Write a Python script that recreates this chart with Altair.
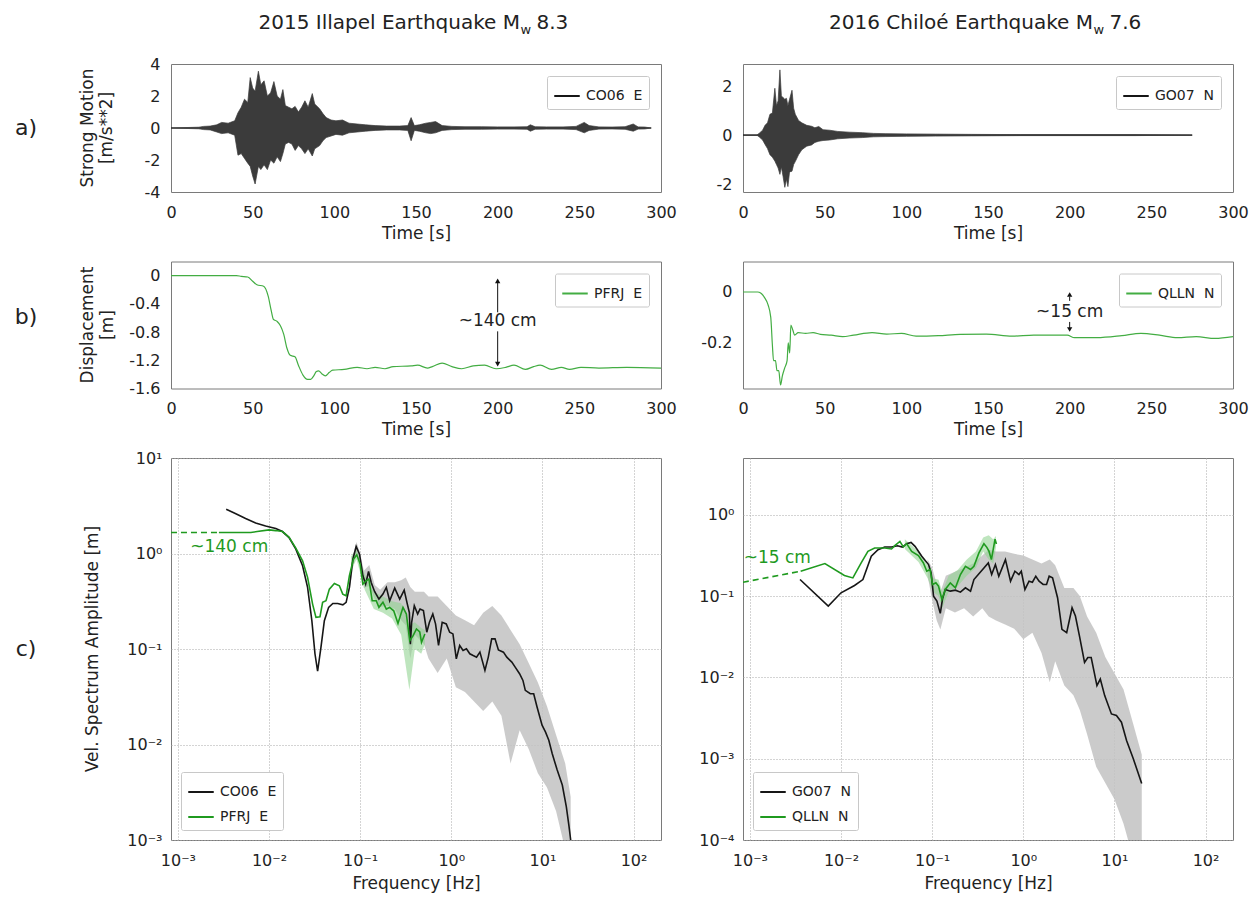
import altair as alt
import pandas as pd

FONT = "DejaVu Sans"
W = 490
HA, HB, HC = 128, 127, 382
COLGAP = 82
ROWGAP = 69.5

BLACK = "#161616"
GREEN = "#1f9a1f"
GREEN_B = "#43ad43"
SEIS = "#3b3b3b"
GRAY = "#c2c2c2"
LGREEN = "#93d493"
TXT = "#222222"

# ---------------- texts ----------------
title_left = ["2015 Illapel Earthquake M", "w", "8.3"]
title_right = ["2016 Chiloé Earthquake M", "w", "7.6"]
letters = ["a)", "b)", "c)"]
time_ticks = [0, 50, 100, 150, 200, 250, 300]

# ---------------- a) strong motion (envelope of the trace) ----------------
a1_name = "CO06\u00a0 E"
a1_t = [0, 17, 20, 24, 28, 31, 35, 39, 41, 43,
        45, 47, 48.5, 50, 51.5, 53.5, 55, 57, 59, 61,
        63, 65, 67, 68.5, 70, 72, 74, 76, 78, 80,
        82, 84, 86.5, 88, 91, 93, 95, 98, 101, 105,
        109, 114, 119, 125, 132, 140, 145, 147, 149, 152,
        156, 159, 162, 166, 172, 180, 190, 200, 210, 218,
        220, 223, 230, 240, 248, 253, 256, 262, 270, 278,
        283, 286, 290, 294]
a1_hi = [0, 0.05, 0.1, 0.12, 0.2, 0.35, 0.3, 0.45, 0.95, 1.3,
         1.8, 1.6, 3.15, 2.5, 2.3, 3.55, 2.7, 2.95, 2.0, 2.2,
         2.9, 2.0, 1.8, 2.4, 1.4, 1.3, 1.2, 1.35, 1.0, 1.3,
         1.7, 1.3, 2.15, 1.5, 1.2, 0.9, 0.65, 0.5, 0.45, 0.5,
         0.3, 0.25, 0.2, 0.15, 0.12, 0.12, 0.15, 0.65, 0.15, 0.2,
         0.3, 0.35, 0.4, 0.15, 0.1, 0.08, 0.08, 0.07, 0.07, 0.08,
         0.2, 0.08, 0.07, 0.07, 0.1, 0.35, 0.15, 0.07, 0.06, 0.08,
         0.25, 0.07, 0.06, 0]
a1_lo = [0, -0.05, -0.1, -0.12, -0.25, -0.35, -0.3, -0.45, -1.7, -1.6,
         -1.9, -2.2, -2.4, -3.0, -3.5, -2.4, -2.6, -2.3, -2.6, -2.0,
         -2.2, -1.8, -2.1, -1.6, -1.0, -0.9, -1.0, -1.4, -1.1, -1.3,
         -1.6, -1.3, -1.75, -1.3, -1.1, -0.8, -0.6, -0.5, -0.4, -0.45,
         -0.3, -0.25, -0.2, -0.15, -0.12, -0.12, -0.15, -0.8, -0.15, -0.2,
         -0.3, -0.35, -0.3, -0.15, -0.1, -0.08, -0.08, -0.07, -0.07, -0.08,
         -0.2, -0.08, -0.07, -0.07, -0.1, -0.3, -0.15, -0.07, -0.06, -0.08,
         -0.2, -0.07, -0.06, 0]
a1_span = [0, 294]

a2_name = "GO07\u00a0 N"
a2_t = [0, 8.5, 10, 12, 13.5, 15, 16.5, 18, 19.5, 20.5,
        21.5, 22.6, 23.5, 24.5, 25.6, 26.6, 27.5, 28.5, 30, 31,
        32, 34, 36, 39, 42, 44, 46.4, 49, 53, 58,
        65, 73, 80, 87, 100, 118, 140, 170, 200, 240,
        275]
a2_hi = [0, 0, 0.08, 0.2, 0.4, 0.5, 0.85, 0.9, 1.91, 1.2,
         1.4, 2.66, 1.6, 1.53, 1.46, 1.5, 1.2, 1.46, 1.83, 1.1,
         0.85, 0.6, 0.5, 0.4, 0.36, 0.3, 0.35, 0.22, 0.2, 0.15,
         0.12, 0.1, 0.07, 0.06, 0.05, 0.04, 0.03, 0.02, 0.02, 0.02,
         0]
a2_lo = [0, 0, -0.08, -0.2, -0.38, -0.55, -0.8, -0.9, -1.06, -1.2,
         -1.34, -1.6, -1.3, -1.68, -2.13, -1.8, -2.1, -1.5, -1.47, -1.2,
         -1.08, -0.8, -0.6, -0.45, -0.4, -0.3, -0.25, -0.22, -0.2, -0.15,
         -0.12, -0.1, -0.07, -0.06, -0.05, -0.04, -0.03, -0.02, -0.02, -0.02,
         0]
a2_span = [0, 275]

# ---------------- b) displacement ----------------
b1_name = "PFRJ\u00a0 E"
b1_t = [0, 40, 43, 47, 50, 52.6, 56.7, 59.5, 61.4, 62.7,
        65, 67, 69, 71, 73, 75.9, 78, 80.8, 83.6, 85.5,
        87.4, 89, 90.4, 92.3, 94.5, 97, 99, 106, 114, 120,
        125, 131, 136, 147, 151, 157, 160, 166, 172, 178,
        185, 192, 199, 205, 210, 217, 222, 226, 233, 239,
        244, 251, 262, 279, 300]
b1_d = [0, 0, -0.01, -0.02, -0.08, -0.13, -0.15, -0.29, -0.5, -0.62,
        -0.65, -0.71, -0.83, -1.03, -1.13, -1.15, -1.27, -1.41, -1.47, -1.47,
        -1.42, -1.36, -1.35, -1.39, -1.42, -1.37, -1.34, -1.33, -1.30, -1.32,
        -1.30, -1.32, -1.29, -1.28, -1.27, -1.31, -1.29, -1.24, -1.29, -1.32,
        -1.28, -1.27, -1.32, -1.30, -1.27, -1.33, -1.29, -1.27, -1.33, -1.30,
        -1.33, -1.30, -1.31, -1.30, -1.31]
b1_note = "~140 cm"
b1_note_at = [200, -0.65]
b1_seg_lo = [-0.07, -0.79]
b1_seg_hi = [-0.52, -1.26]
b1_heads = [-0.075, -1.255]

b2_name = "QLLN\u00a0 N"
b2_t = [0, 9, 10.8, 13, 15.3, 17, 18, 18.7, 19.9, 20.8,
        21.9, 23, 24.1, 25.5, 27, 27.7, 28.6, 29.3, 30.5, 31.6,
        33.8, 38.3, 42.9, 47.4, 54, 61, 67.7, 79, 88, 97,
        106, 119.6, 133, 149, 164.7, 178, 198.5, 203, 216.6, 232,
        243.6, 255, 266, 277.5, 289, 300]
b2_d = [0, 0, -0.004, -0.02, -0.05, -0.10, -0.21, -0.27, -0.27, -0.31,
        -0.31, -0.366, -0.33, -0.30, -0.27, -0.20, -0.24, -0.13, -0.15, -0.17,
        -0.16, -0.163, -0.16, -0.167, -0.17, -0.176, -0.17, -0.16, -0.166, -0.163,
        -0.174, -0.172, -0.167, -0.166, -0.174, -0.17, -0.17, -0.18, -0.18, -0.172,
        -0.163, -0.17, -0.18, -0.176, -0.183, -0.176]
b2_note = "~15 cm"
b2_note_at = [200, -0.077]
b2_seg_lo = [-0.018, -0.118]
b2_seg_hi = [-0.035, -0.142]
b2_heads = [-0.01, -0.148]

# ---------------- c) velocity spectra (log10 values read off the axes) ----------------
c1_names = ["CO06\u00a0 E", "PFRJ\u00a0 E"]
c1k_lf = [-2.47, -2.37, -2.257, -2.147, -2.037, -1.926, -1.853, -1.78, -1.706, -1.632,
          -1.577, -1.53, -1.496, -1.467, -1.43, -1.393, -1.346, -1.30, -1.246, -1.19,
          -1.154, -1.118, -1.08, -1.044, -1.007, -0.97, -0.94, -0.908, -0.879, -0.842,
          -0.794, -0.75, -0.713, -0.676, -0.621, -0.566, -0.517, -0.485, -0.46, -0.449,
          -0.435, -0.406, -0.369, -0.343, -0.306, -0.269, -0.24, -0.203, -0.173, -0.14,
          -0.1, -0.055, -0.018, 0.018, 0.055, 0.092, 0.129, 0.166, 0.203, 0.24,
          0.277, 0.314, 0.369, 0.406, 0.443, 0.48, 0.517, 0.572, 0.609, 0.664,
          0.701, 0.749, 0.786, 0.812, 0.867, 0.904, 0.941, 0.996, 1.033, 1.07,
          1.107, 1.162, 1.218, 1.262, 1.292, 1.31]
c1k_la = [0.463, 0.418, 0.366, 0.32, 0.289, 0.261, 0.23, 0.167, 0.045, -0.129,
          -0.355, -0.704, -1.05, -1.233, -0.98, -0.704, -0.564, -0.523, -0.523, -0.537,
          -0.512, -0.355, -0.059, 0.073, -0.007, -0.233, -0.32, -0.188, -0.303, -0.397,
          -0.477, -0.425, -0.355, -0.495, -0.362, -0.477, -0.383, -0.52, -0.62, -0.95,
          -0.72, -0.546, -0.633, -0.581, -0.598, -0.824, -0.72, -0.633, -0.737, -0.963,
          -0.72, -0.737, -0.824, -0.842, -1.103, -0.963, -1.016, -0.998, -1.05, -1.068,
          -1.085, -1.033, -1.224, -1.085, -0.894, -0.894, -1.009, -1.033, -1.085, -1.137,
          -1.19, -1.259, -1.329, -1.433, -1.468, -1.468, -1.607, -1.798, -1.868, -1.955,
          -2.094, -2.268, -2.424, -2.65, -2.859, -3.0]
c1g_lf = [-2.55, -2.2, -2.13, -2.0, -1.926, -1.853, -1.78, -1.706, -1.632, -1.577,
          -1.522, -1.485, -1.441, -1.412, -1.375, -1.338, -1.283, -1.228, -1.191, -1.154,
          -1.118, -1.074, -1.037, -1.0, -0.971, -0.934, -0.904, -0.868, -0.824, -0.794,
          -0.75, -0.713, -0.676, -0.632, -0.585, -0.53, -0.493, -0.456, -0.419, -0.382,
          -0.346, -0.327, -0.29]
c1g_la = [0.22, 0.22, 0.23, 0.247, 0.24, 0.23, 0.17, 0.056, -0.077, -0.25,
          -0.53, -0.669, -0.662, -0.512, -0.495, -0.373, -0.314, -0.338, -0.425, -0.443,
          -0.233, -0.059, -0.014, -0.111, -0.32, -0.286, -0.268, -0.495, -0.495, -0.564,
          -0.51, -0.582, -0.564, -0.6, -0.732, -0.564, -0.634, -0.913, -0.86, -0.79,
          -0.82, -0.93, -0.843]
c1d_lf = [-3.076, -2.55]
c1d_la = [0.22, 0.22]
c1r_lf = [-1.12, -1.08, -1.04, -1.00, -0.96, -0.90, -0.84, -0.78, -0.70, -0.62,
          -0.55, -0.50, -0.45, -0.40, -0.30, -0.25, -0.15, -0.05, 0.05, 0.15,
          0.25, 0.35, 0.45, 0.55, 0.65, 0.75, 0.85, 0.95, 1.05, 1.15,
          1.25, 1.31]
c1r_hi = [-0.28, -0.02, 0.12, 0.00, -0.18, -0.12, -0.33, -0.38, -0.30, -0.30,
          -0.28, -0.25, -0.35, -0.40, -0.40, -0.45, -0.45, -0.55, -0.65, -0.70,
          -0.75, -0.62, -0.55, -0.65, -0.80, -0.95, -1.15, -1.35, -1.60, -1.90,
          -2.20, -2.55]
c1r_lo = [-0.42, -0.15, 0.00, -0.10, -0.36, -0.34, -0.48, -0.56, -0.55, -0.58,
          -0.70, -0.75, -1.10, -0.85, -0.95, -1.10, -1.25, -1.10, -1.40, -1.45,
          -1.55, -1.65, -1.55, -1.70, -2.20, -1.85, -2.05, -2.30, -2.45, -2.70,
          -3.10, -3.20]
c1q_lf = [-1.10, -1.04, -0.95, -0.85, -0.75, -0.65, -0.55, -0.46, -0.40, -0.33, -0.29]
c1q_hi = [-0.03, 0.04, -0.22, -0.40, -0.45, -0.50, -0.52, -0.75, -0.72, -0.78, -0.80]
c1q_lo = [-0.18, -0.06, -0.38, -0.58, -0.62, -0.68, -0.85, -1.43, -1.00, -1.05, -0.95]
c1_note = "~140 cm"
c1_note_at = [-2.437, 0.063]

c2_names = ["GO07\u00a0 N", "QLLN\u00a0 N"]
c2k_lf = [-2.45, -2.14, -2.0, -1.852, -1.76, -1.668, -1.594, -1.52, -1.446, -1.38,
          -1.328, -1.28, -1.232, -1.188, -1.114, -1.04, -1.011, -0.985, -0.948, -0.911,
          -0.886, -0.856, -0.801, -0.745, -0.69, -0.635, -0.579, -0.542, -0.494, -0.432,
          -0.384, -0.347, -0.306, -0.269, -0.196, -0.14, -0.092, -0.048, -0.022, 0.018,
          0.063, 0.1, 0.137, 0.173, 0.218, 0.255, 0.284, 0.321, 0.376, 0.424,
          0.476, 0.535, 0.572, 0.616, 0.672, 0.708, 0.745, 0.808, 0.845, 0.893,
          0.967, 1.022, 1.077, 1.133, 1.207, 1.299]
c2k_la = [-0.796, -1.122, -0.959, -0.869, -0.796, -0.51, -0.43, -0.396, -0.396, -0.38,
          -0.396, -0.355, -0.339, -0.388, -0.51, -0.612, -0.714, -1.0, -1.061, -1.212,
          -1.033, -0.918, -0.939, -0.927, -0.951, -0.898, -0.939, -0.796, -0.735, -0.653,
          -0.592, -0.735, -0.612, -0.755, -0.551, -0.816, -0.694, -0.735, -0.694, -0.918,
          -0.816, -0.829, -0.755, -0.816, -0.857, -0.857, -0.755, -0.776, -1.02, -1.408,
          -1.449, -1.143, -1.245, -1.49, -1.816, -1.755, -1.755, -2.102, -2.02, -2.224,
          -2.449, -2.469, -2.551, -2.776, -3.0, -3.306]
c2g_lf = [-2.443, -2.177, -1.963, -1.87, -1.779, -1.705, -1.631, -1.52, -1.446, -1.41,
          -1.354, -1.317, -1.28, -1.225, -1.151, -1.096, -1.059, -1.022, -0.996, -0.959,
          -0.93, -0.893, -0.856, -0.801, -0.745, -0.69, -0.635, -0.579, -0.542, -0.487,
          -0.432, -0.40, -0.376, -0.35, -0.31, -0.295]
c2g_la = [-0.694, -0.6, -0.747, -0.776, -0.592, -0.449, -0.408, -0.408, -0.42, -0.38,
          -0.327, -0.396, -0.355, -0.449, -0.502, -0.592, -0.694, -0.673, -0.857, -0.837,
          -0.878, -1.041, -0.918, -0.837, -0.898, -0.735, -0.633, -0.673, -0.633, -0.469,
          -0.355, -0.40, -0.45, -0.55, -0.30, -0.36]
c2d_lf = [-3.077, -2.443]
c2d_la = [-0.829, -0.694]
c2r_lf = [-1.05, -1.00, -0.95, -0.91, -0.85, -0.75, -0.65, -0.55, -0.45, -0.38,
          -0.30, -0.20, -0.10, 0.0, 0.10, 0.20, 0.29, 0.35, 0.45, 0.55,
          0.62, 0.70, 0.80, 0.90, 1.00, 1.10, 1.20, 1.30]
c2r_hi = [-0.55, -0.65, -0.85, -0.95, -0.75, -0.70, -0.65, -0.60, -0.50, -0.43,
          -0.45, -0.45, -0.48, -0.50, -0.55, -0.60, -0.55, -0.62, -0.90, -0.90,
          -1.00, -1.25, -1.45, -1.75, -1.95, -2.15, -2.55, -2.95]
c2r_lo = [-0.75, -1.05, -1.30, -1.41, -1.15, -1.20, -1.15, -1.25, -1.15, -1.25,
          -1.30, -1.35, -1.40, -1.53, -1.45, -1.70, -2.06, -1.80, -2.10, -2.22,
          -2.40, -2.70, -3.10, -3.30, -3.50, -3.80, -4.20, -4.30]
c2q_lf = [-1.30, -1.15, -1.05, -0.99, -0.93, -0.89, -0.82, -0.72, -0.62, -0.52, -0.44, -0.38, -0.33, -0.30]
c2q_hi = [-0.30, -0.45, -0.62, -0.78, -0.80, -0.95, -0.75, -0.68, -0.55, -0.45, -0.28, -0.25, -0.30, -0.26]
c2q_lo = [-0.42, -0.58, -0.78, -0.95, -1.00, -1.15, -0.95, -0.88, -0.75, -0.65, -0.45, -0.55, -0.60, -0.40]
c2_note = "~15 cm"
c2_note_at = [-2.70, -0.535]

freq_ticks = [1e-3, 1e-2, 1e-1, 1, 10, 100]
c1_yticks = [1e-3, 1e-2, 1e-1, 1, 10]
c2_yticks = [1e-4, 1e-3, 1e-2, 1e-1, 1]
FDOM = [8.4e-4, 200]

# ---------------- helpers ----------------
SIGNED = "datum.value < 0 ? '-' + abs(datum.value) : '' + datum.value"
LOGLAB = ("datum.value > 50 ? '10\u00b2' : datum.value > 5 ? '10\u00b9' : datum.value > 0.5 ? '10\u2070' : "
          "datum.value > 0.05 ? '10\u207b\u00b9' : datum.value > 0.005 ? '10\u207b\u00b2' : "
          "datum.value > 0.0005 ? '10\u207b\u00b3' : '10\u207b\u2074'")

leg_tr = alt.Legend(orient="top-right", offset=12)
leg_bl = alt.Legend(orient="bottom-left", offset=10)


def p10(v):
    return [10 ** x for x in v]


def txt(label, x, y, size=17, color=TXT, align="center", baseline="middle", angle=0):
    df = pd.DataFrame({"s": [label]})
    return alt.Chart(df).mark_text(align=align, baseline=baseline, fontSize=size, font=FONT,
                                   color=color, angle=angle).encode(
        x=alt.value(x), y=alt.value(y), text="s:N")


def title_layers(pieces, mend):
    main, sub, tail = pieces
    return [
        txt(main, mend, -35, size=20, align="right", baseline="alphabetic"),
        txt(sub, mend + 0.5, -30, size=13, align="left", baseline="alphabetic"),
        txt(tail, mend + 16.5, -35, size=20, align="left", baseline="alphabetic"),
    ]


def tx():
    return alt.X("t:Q", scale=alt.Scale(domain=[0, 300], nice=False, zero=False),
                 axis=alt.Axis(values=time_ticks, title="Time [s]", labelPadding=12, titlePadding=5))


def vy(dom, vals):
    return alt.Y("v:Q", scale=alt.Scale(domain=dom, nice=False, zero=False),
                 axis=alt.Axis(values=vals, title=None, labelExpr=SIGNED, labelPadding=11))


def seis_panel(t, hi, lo, span, name, dom, vals):
    env = pd.DataFrame({"t": t, "v": hi, "v2": lo})
    base = pd.DataFrame({"t": span, "v": [0, 0], "s": [name, name]})
    line = alt.Chart(base).mark_line(strokeWidth=1.2, clip=True).encode(
        x=tx(), y=vy(dom, vals),
        color=alt.Color("s:N", scale=alt.Scale(domain=[name], range=[BLACK]), legend=leg_tr, title=None))
    area = alt.Chart(env).mark_area(color=SEIS, stroke=SEIS, strokeWidth=0.7, clip=True).encode(
        x=tx(), y=vy(dom, vals), y2="v2:Q")
    return [line, area]


def disp_panel(t, d, name, dom, vals, note, note_at, seg_lo, seg_hi, heads):
    df = pd.DataFrame({"t": t, "v": d, "s": [name] * len(t)})
    line = alt.Chart(df).mark_line(strokeWidth=1.2, clip=True, interpolate="monotone").encode(
        x=tx(), y=vy(dom, vals),
        color=alt.Color("s:N", scale=alt.Scale(domain=[name], range=[GREEN_B]), legend=leg_tr, title=None))
    segs = pd.DataFrame({"t": [note_at[0]] * 2, "v": seg_lo, "v2": seg_hi})
    rules = alt.Chart(segs).mark_rule(color="#111", strokeWidth=1).encode(x=tx(), y=vy(dom, vals), y2="v2:Q")
    up = pd.DataFrame({"t": [note_at[0]], "v": [heads[0]]})
    dn = pd.DataFrame({"t": [note_at[0]], "v": [heads[1]]})
    h1 = alt.Chart(up).mark_point(shape="triangle-up", filled=True, size=28, color="#111", opacity=1).encode(
        x=tx(), y=vy(dom, vals))
    h2 = alt.Chart(dn).mark_point(shape="triangle-down", filled=True, size=28, color="#111", opacity=1).encode(
        x=tx(), y=vy(dom, vals))
    nd = pd.DataFrame({"t": [note_at[0]], "v": [note_at[1]], "s": [note]})
    label = alt.Chart(nd).mark_text(fontSize=17, font=FONT, color=TXT).encode(
        x=tx(), y=vy(dom, vals), text="s:N")
    return [line, rules, h1, h2, label]


def fx():
    return alt.X("f:Q", scale=alt.Scale(type="log", domain=FDOM, nice=False),
                 axis=alt.Axis(values=freq_ticks, labelExpr=LOGLAB, title="Frequency [Hz]", grid=True,
                               gridDash=[1, 2], gridColor="#a8a8a8", labelPadding=12, titlePadding=7))


def fy(dom, vals):
    return alt.Y("A:Q", scale=alt.Scale(type="log", domain=dom, nice=False),
                 axis=alt.Axis(values=vals, labelExpr=LOGLAB, title=None, grid=True,
                               gridDash=[1, 2], gridColor="#a8a8a8", labelPadding=9))


def spec_panel(names, k_lf, k_la, g_lf, g_la, d_lf, d_la, r_lf, r_hi, r_lo, q_lf, q_hi, q_lo,
               note, note_at, dom, vals):
    cs = alt.Scale(domain=names, range=[BLACK, GREEN])
    raw = pd.DataFrame({"f": p10(r_lf), "A": p10(r_hi), "A2": p10(r_lo)})
    rawg = pd.DataFrame({"f": p10(q_lf), "A": p10(q_hi), "A2": p10(q_lo)})
    kdf = pd.DataFrame({"f": p10(k_lf), "A": p10(k_la), "s": [names[0]] * len(k_lf)})
    gdf = pd.DataFrame({"f": p10(g_lf), "A": p10(g_la), "s": [names[1]] * len(g_lf)})
    ddf = pd.DataFrame({"f": p10(d_lf), "A": p10(d_la)})
    ndf = pd.DataFrame({"f": [10 ** note_at[0]], "A": [10 ** note_at[1]], "s": [note]})
    layers = [
        alt.Chart(raw).mark_area(color=GRAY, opacity=0.85, clip=True).encode(x=fx(), y=fy(dom, vals), y2="A2:Q"),
        alt.Chart(rawg).mark_area(color=LGREEN, opacity=0.6, clip=True).encode(x=fx(), y=fy(dom, vals), y2="A2:Q"),
        alt.Chart(kdf).mark_line(strokeWidth=1.6, clip=True).encode(
            x=fx(), y=fy(dom, vals), color=alt.Color("s:N", scale=cs, legend=leg_bl, title=None)),
        alt.Chart(gdf).mark_line(strokeWidth=1.6, clip=True).encode(
            x=fx(), y=fy(dom, vals), color=alt.Color("s:N", scale=cs, legend=leg_bl, title=None)),
        alt.Chart(ddf).mark_line(strokeWidth=1.6, color=GREEN, strokeDash=[6, 4], clip=True).encode(
            x=fx(), y=fy(dom, vals)),
        alt.Chart(ndf).mark_text(fontSize=17, font=FONT, color=GREEN).encode(
            x=fx(), y=fy(dom, vals), text="s:N"),
    ]
    return layers


# ---------------- panels ----------------
anchor = alt.Chart(pd.DataFrame({"k": [0]})).mark_rule(opacity=0).encode(
    x=alt.value(-170), y=alt.value(-63), y2=alt.value(0))

aL = alt.layer(
    *seis_panel(a1_t, a1_hi, a1_lo, a1_span, a1_name, [-4, 4], [-4, -2, 0, 2, 4]),
    *title_layers(title_left, 349),
    txt(letters[0], -145, HA / 2, size=22),
    txt("Strong Motion", -83, HA / 2, angle=270),
    txt("[m/s**2]", -64, HA / 2, angle=270),
    anchor,
).properties(width=W, height=HA)

aR = alt.layer(
    *seis_panel(a2_t, a2_hi, a2_lo, a2_span, a2_name, [-2.32, 2.9], [-2, 0, 2]),
    *title_layers(title_right, 350),
).properties(width=W, height=HA)

bL = alt.layer(
    *disp_panel(b1_t, b1_d, b1_name, [-1.6, 0.2], [0, -0.4, -0.8, -1.2, -1.6],
                b1_note, b1_note_at, b1_seg_lo, b1_seg_hi, b1_heads),
    txt(letters[1], -145, HB / 2 - 8, size=22),
    txt("Displacement", -83, HB / 2, angle=270),
    txt("[m]", -63, HB / 2, angle=270),
).properties(width=W, height=HB)

bR = alt.layer(
    *disp_panel(b2_t, b2_d, b2_name, [-0.38, 0.12], [0, -0.2],
                b2_note, b2_note_at, b2_seg_lo, b2_seg_hi, b2_heads),
).properties(width=W, height=HB)

cL = alt.layer(
    *spec_panel(c1_names, c1k_lf, c1k_la, c1g_lf, c1g_la, c1d_lf, c1d_la, c1r_lf, c1r_hi, c1r_lo,
                c1q_lf, c1q_hi, c1q_lo, c1_note, c1_note_at, [1e-3, 10], c1_yticks),
    txt(letters[2], -145, HC / 2, size=22),
    txt("Vel. Spectrum Amplitude [m]", -78, HC / 2, angle=270),
).properties(width=W, height=HC)

cR = alt.layer(
    *spec_panel(c2_names, c2k_lf, c2k_la, c2g_lf, c2g_la, c2d_lf, c2d_la, c2r_lf, c2r_hi, c2r_lo,
                c2q_lf, c2q_hi, c2q_lo, c2_note, c2_note_at, [1e-4, 5], c2_yticks),
).properties(width=W, height=HC)

chart = alt.concat(
    aL, aR, bL, bR, cL, cR, columns=2, bounds="flush",
    spacing=alt.RowColnumber(row=ROWGAP, column=COLGAP),
).resolve_scale(
    x="independent", y="independent", color="independent"
).properties(
    padding={"left": 0, "top": 0, "right": 4, "bottom": 4}
).configure(
    font=FONT
).configure_axis(
    labelFont=FONT, titleFont=FONT, labelFontSize=16, titleFontSize=17, titleFontWeight="normal",
    labelColor=TXT, titleColor=TXT, domain=False, ticks=False, tickSize=0, grid=False,
    labelFlush=False
).configure_view(
    stroke="#7a7a7a", strokeWidth=1
).configure_legend(
    fillColor="white", strokeColor="#c8c8c8", padding=6, cornerRadius=2,
    labelFont=FONT, labelFontSize=14, labelColor=TXT,
    symbolType="stroke", symbolStrokeWidth=2, symbolSize=650, rowPadding=4, labelOffset=5
)

chart.save("out.html", embed_options={"renderer": "svg", "actions": False})
